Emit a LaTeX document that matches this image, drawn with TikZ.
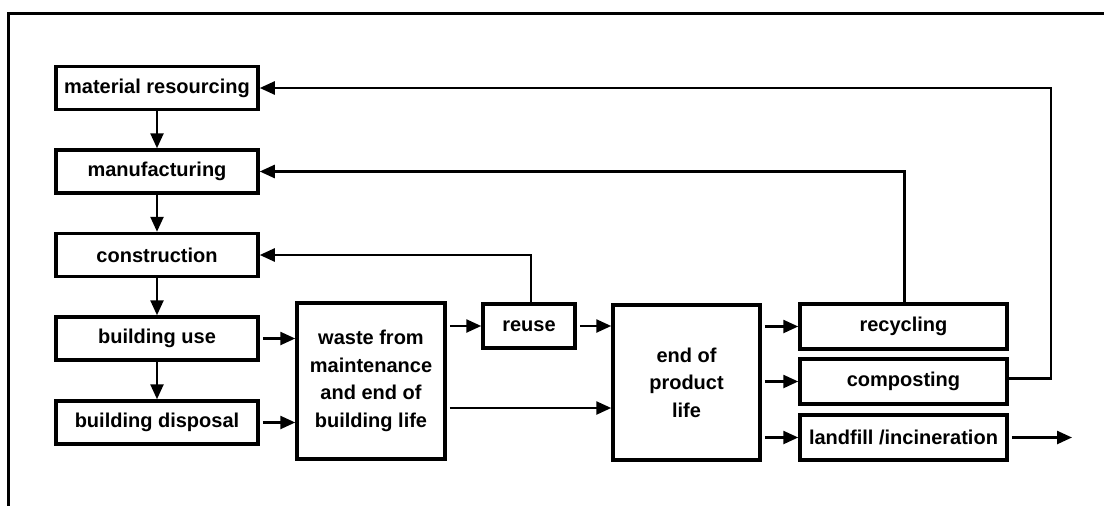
\documentclass[tikz,border=0pt]{standalone}
\usepackage{fontspec}
\setmainfont{Liberation Sans}
\usetikzlibrary{arrows.meta}
\begin{document}
\begin{tikzpicture}[x=1pt,y=-1pt,
  box/.style={draw,line width=3.5pt,inner sep=0pt,align=center,
    font=\fontsize{20}{27.5}\selectfont\bfseries},
  lbox/.style={box,minimum width=202pt,minimum height=43pt},
  rbox/.style={box,minimum width=207pt,minimum height=45pt},
  bigbox/.style={box,minimum width=148pt,minimum height=156pt},
  conn/.style={line width=2.5pt,-{Triangle[length=15pt,width=13pt]}},
  link/.style={line width=2.5pt}]
\useasboundingbox (0,0) rectangle (1104,506);
\draw[line width=3pt] (1104,13) -- (8,13) -- (8,506);
% left column
\node[lbox] (mr) at (157,88) {material resourcing};
\node[lbox] (mf) at (157,171.5) {manufacturing};
\node[lbox] (cons) at (157,255) {construction};
\node[lbox] (use) at (157,338.5) {building use};
\node[lbox] (disp) at (157,422.5) {building disposal};
% middle
\node[bigbox] (waste) at (371,381) {waste from\\maintenance\\and end of\\building life};
\node[box,minimum width=92pt,minimum height=44pt] (reuse) at (529,326) {reuse};
\node[bigbox,minimum width=147pt,minimum height=155pt] (end) at (686.5,382.5) {end of\\product\\life};
% right column
\node[rbox] (rec) at (903.5,326.5) {recycling};
\node[rbox] (comp) at (903.5,381.5) {composting};
\node[rbox] (land) at (903.5,437.5) {landfill /incineration};
\coordinate (out) at (1072,437.5);
% vertical chain
\draw[conn] (mr.south) -- (mf.north);
\draw[conn] (mf.south) -- (cons.north);
\draw[conn] (cons.south) -- (use.north);
\draw[conn] (use.south) -- (disp.north);
% into waste
\draw[conn,shorten <=3pt] (use.east) -- (use.east -| waste.west);
\draw[conn,shorten <=3pt] (disp.east) -- (disp.east -| waste.west);
% waste to reuse / end
\draw[conn,shorten <=3pt] (waste.east |- reuse.west) -- (reuse.west);
\draw[conn,shorten <=3pt] (reuse.east) -- (reuse.east -| end.west);
\draw[conn,shorten <=3pt] ([yshift=-27pt]waste.east) -- ([yshift=-27pt]waste.east -| end.west);
% end to right column
\draw[conn,shorten <=3pt] (end.east |- rec.west) -- (rec.west);
\draw[conn,shorten <=3pt] (end.east |- comp.west) -- (comp.west);
\draw[conn,shorten <=3pt] (end.east |- land.west) -- (land.west);
\draw[conn,shorten <=3pt] (land.east) -- (out);
% feedback loops
\draw[conn] ([xshift=2pt]reuse.north) |- (cons.east);
\draw[conn] ([xshift=1pt]rec.north) |- (mf.east);
\draw[conn] ([yshift=3pt]comp.east) -- ++(42,0) |- (mr.east);
\end{tikzpicture}
\end{document}
